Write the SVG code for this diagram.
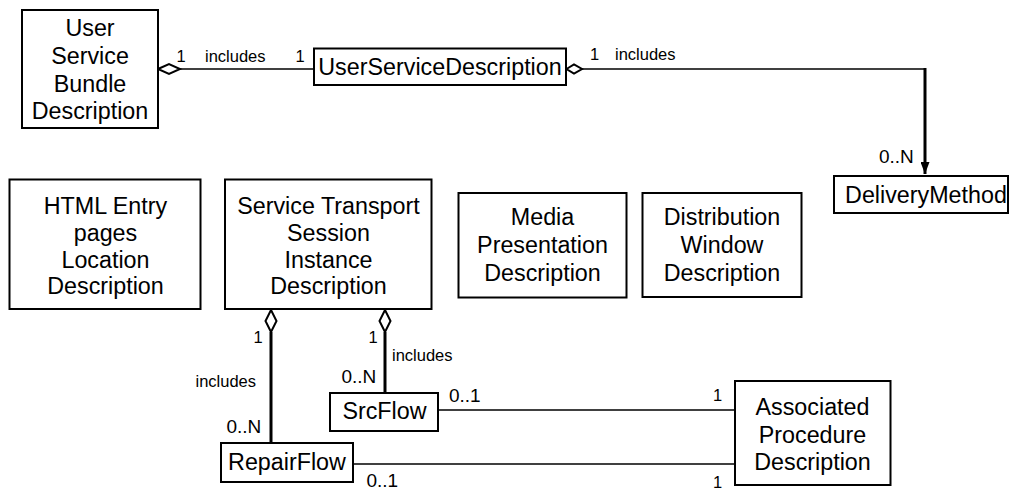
<svg xmlns="http://www.w3.org/2000/svg" width="1010" height="489" viewBox="0 0 1010 489">
<style>
.box{fill:#fff;stroke:#000;stroke-width:2}
.t{font-family:"Liberation Sans",Arial,sans-serif;font-size:23.3px;text-anchor:middle;fill:#000}
.l{font-family:"Liberation Sans",Arial,sans-serif;font-size:16.5px;fill:#000}
.m{font-family:"Liberation Sans",Arial,sans-serif;font-size:19px;fill:#000}
.ln{fill:none;stroke:#000;stroke-width:1.6}
.thk{fill:none;stroke:#000;stroke-width:3}
.dia{fill:#fff;stroke:#000;stroke-width:2}
</style>
<defs>
<marker id="arr" markerWidth="4" markerHeight="3" refX="4" refY="1.5" orient="auto" markerUnits="strokeWidth">
<path d="M0,0 L4,1.5 L0,3 Z" fill="#000"/>
</marker>
</defs>
<g id="connectors">
<line class="ln" x1="180" y1="69" x2="314" y2="69"/>
<path class="dia" d="M158,69 L169,64 L180,69 L169,74 Z"/>
<path class="ln" d="M582,69 L925,69"/>
<line class="thk" x1="925" y1="68" x2="925" y2="174" marker-end="url(#arr)"/>
<path class="dia" d="M566.5,69 L574,64.5 L582,69 L574,73.5 Z"/>
<line class="thk" x1="271" y1="332" x2="271" y2="443"/>
<path class="dia" d="M271,310 L276.5,321 L271,332 L265.5,321 Z"/>
<line class="thk" x1="385" y1="332" x2="385" y2="393"/>
<path class="dia" d="M385,310 L390.5,321 L385,332 L379.5,321 Z"/>
<line class="ln" x1="438" y1="410" x2="735" y2="410"/>
<line class="ln" x1="353" y1="464" x2="735" y2="464"/>
<text class="l" x="176.5" y="62">1</text>
<text class="l" x="205" y="62">includes</text>
<text class="l" x="295.5" y="62">1</text>
<text class="l" x="590" y="60">1</text>
<text class="l" x="615" y="60">includes</text>
<text class="m" x="879" y="163">0..N</text>
<text class="l" x="253.5" y="343">1</text>
<text class="l" x="368.5" y="343">1</text>
<text class="l" x="392" y="360.5">includes</text>
<text class="l" x="195.5" y="387">includes</text>
<text class="m" x="341.5" y="383">0..N</text>
<text class="m" x="226.5" y="433">0..N</text>
<text class="m" x="449" y="401.5">0..1</text>
<text class="m" x="366.5" y="487">0..1</text>
<text class="l" x="713" y="400.5">1</text>
<text class="l" x="713" y="488">1</text>
</g>
<g id="usbd">
<rect class="box" x="22" y="10" width="136" height="118"/>
<text class="t" x="90" y="36">User</text>
<text class="t" x="90" y="63.5">Service</text>
<text class="t" x="90" y="91.5">Bundle</text>
<text class="t" x="90" y="119">Description</text>
</g>
<g id="usd">
<rect class="box" x="314" y="48.5" width="252" height="36.5"/>
<text class="t" x="440" y="75">UserServiceDescription</text>
</g>
<g id="deliverymethod">
<rect class="box" x="834" y="176" width="174" height="37"/>
<text class="t" x="926" y="203">DeliveryMethod</text>
</g>
<g id="html">
<rect class="box" x="9.5" y="179.5" width="191" height="129.5"/>
<text class="t" x="105.5" y="213.5">HTML Entry</text>
<text class="t" x="105.5" y="240.5">pages</text>
<text class="t" x="105.5" y="267.5">Location</text>
<text class="t" x="105.5" y="294">Description</text>
</g>
<g id="stsid">
<rect class="box" x="225" y="179.5" width="206.5" height="129.5"/>
<text class="t" x="328.5" y="213.5">Service Transport</text>
<text class="t" x="328.5" y="240.5">Session</text>
<text class="t" x="328.5" y="267.5">Instance</text>
<text class="t" x="328.5" y="294">Description</text>
</g>
<g id="mpd">
<rect class="box" x="458.5" y="193" width="168" height="104.5"/>
<text class="t" x="542.5" y="225">Media</text>
<text class="t" x="542.5" y="253">Presentation</text>
<text class="t" x="542.5" y="281">Description</text>
</g>
<g id="dwd">
<rect class="box" x="642.5" y="193" width="159" height="104"/>
<text class="t" x="722" y="225">Distribution</text>
<text class="t" x="722" y="253">Window</text>
<text class="t" x="722" y="281">Description</text>
</g>
<g id="srcflow">
<rect class="box" x="330" y="393" width="108" height="38"/>
<text class="t" x="384.5" y="418.5">SrcFlow</text>
</g>
<g id="repairflow">
<rect class="box" x="221" y="443" width="132" height="39"/>
<text class="t" x="287" y="469.5">RepairFlow</text>
</g>
<g id="apd">
<rect class="box" x="735" y="381" width="155.5" height="104"/>
<text class="t" x="812.5" y="415">Associated</text>
<text class="t" x="812.5" y="443">Procedure</text>
<text class="t" x="812.5" y="470">Description</text>
</g>
</svg>
